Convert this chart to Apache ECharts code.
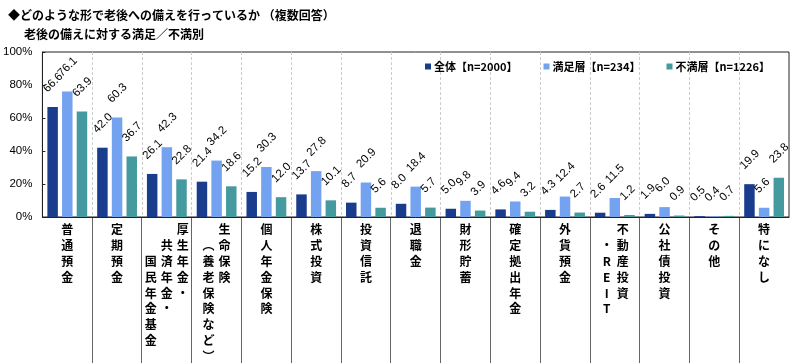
<!DOCTYPE html>
<html><head><meta charset="utf-8">
<script src="https://cdn.jsdelivr.net/npm/echarts@6/dist/echarts.min.js"></script>
<style>html,body{margin:0;padding:0;background:#fff}#c{width:800px;height:363px}</style>
</head><body><div id="c"></div>
<script>
// Category labels: each entry is a list of vertical text columns, right column first
const categories = [
  ['普通預金'],
  ['定期預金'],
  ['厚生年金・', '共済年金・', '国民年金基金'],
  ['生命保険', '︵養老保険など︶'],
  ['個人年金保険'],
  ['株式投資'],
  ['投資信託'],
  ['退職金'],
  ['財形貯蓄'],
  ['確定拠出年金'],
  ['外貨預金'],
  ['不動産投資', '・REIT'],
  ['公社債投資'],
  ['その他'],
  ['特になし']
];
const seriesNames = ['全体【n=2000】', '満足層【n=234】', '不満層【n=1226】'];
const allValues      = [66.6, 42.0, 26.1, 21.4, 15.2, 13.7, 8.7, 8.0, 5.0, 4.6, 4.3, 2.6, 1.9, 0.5, 19.9];
const satisfiedValues = [76.1, 60.3, 42.3, 34.2, 30.3, 27.8, 20.9, 18.4, 9.8, 9.4, 12.4, 11.5, 6.0, 0.4, 5.6];
const unsatisfiedValues = [63.9, 36.7, 22.8, 18.6, 12.0, 10.1, 5.6, 5.7, 3.9, 3.2, 2.7, 1.2, 0.9, 0.7, 23.8];
const yTicks = [0, 20, 40, 60, 80, 100];
const titleLines = ['◆どのような形で老後への備えを行っているか （複数回答）', '老後の備えに対する満足／不満別'];

const colors = ['#1a3c8c', '#72a2f0', '#449a9e'];
const catKeys = categories.map(c => c.join('|'));

function verticalLabel(key) {
  const cols = key.split('|');
  const n = cols.length;
  let rows = 0;
  cols.forEach((c, k) => { rows = Math.max(rows, k + Array.from(c).length); });
  const lines = [];
  for (let r = 0; r < rows; r++) {
    let line = '';
    for (let k = n - 1; k >= 0; k--) {
      const ch = Array.from(cols[k])[r - k];
      line += ch ? '{c|' + ch + '}' : '{c|　}';
    }
    lines.push(line);
  }
  return lines.join('\n');
}

const labelStyle = {
  show: true, position: 'top', distance: 0, rotate: 45,
  align: 'left', verticalAlign: 'middle', offset: [6.4, -17],
  fontFamily: 'Liberation Sans', fontSize: 11.5, color: '#000',
  formatter: p => p.value.toFixed(1)
};

const chart = echarts.init(document.getElementById('c'), null, {renderer: 'canvas'});
chart.setOption({
  animation: false,
  title: [
    {text: titleLines[0], left: 3, top: 4, textStyle: {fontFamily: 'Noto Sans CJK JP', fontWeight: 'bold', fontSize: 12, color: '#000'}},
    {text: titleLines[1], left: 19, top: 23, textStyle: {fontFamily: 'Noto Sans CJK JP', fontWeight: 'bold', fontSize: 12, color: '#000'}}
  ],
  legend: {
    data: seriesNames, right: 25, top: 56, icon: 'rect', itemWidth: 6, itemHeight: 6, itemGap: 26,
    textStyle: {fontFamily: 'Noto Sans CJK JP', fontWeight: 'bold', fontSize: 11, color: '#000', padding: [0, 0, 0, -2]}
  },
  grid: [
    {left: 42, right: 11, top: 52, bottom: 146, show: true, borderColor: '#222', borderWidth: 1},
    {left: 42, right: 11, top: 217, bottom: 0}
  ],
  xAxis: [
    {
      type: 'category', data: catKeys, gridIndex: 0,
      axisLine: {lineStyle: {color: '#222', width: 1}},
      axisTick: {show: false},
      splitLine: {show: true, interval: 0, showMinLine: false, showMaxLine: false, lineStyle: {color: '#cccccc', type: [3, 2]}},
      axisLabel: {
        interval: 0, margin: 5, verticalAlign: 'top',
        formatter: verticalLabel,
        rich: {c: {width: 16, align: 'center', lineHeight: 15.8, fontFamily: 'Noto Sans CJK JP', fontWeight: 'bold', fontSize: 12, color: '#000'}}
      }
    },
    {
      type: 'category', data: catKeys, gridIndex: 1,
      axisLine: {show: false}, axisTick: {show: false}, axisLabel: {show: false, interval: 0},
      splitLine: {show: true, interval: 0, showMinLine: false, showMaxLine: false, lineStyle: {color: '#666', width: 1}}
    }
  ],
  yAxis: [
    {
      type: 'value', min: 0, max: 100, interval: 20, gridIndex: 0,
      axisLine: {show: true, lineStyle: {color: '#222'}},
      axisTick: {show: true, inside: true, length: 3, lineStyle: {color: '#222'}},
      splitLine: {show: false},
      axisLabel: {margin: 10, fontFamily: 'Liberation Sans', fontSize: 11.5, color: '#000',
        formatter: v => yTicks.includes(v) ? v + '%' : ''}
    },
    {type: 'value', gridIndex: 1, show: false, min: 0, max: 1, splitLine: {show: false}}
  ],
  series: [
    {name: seriesNames[0], type: 'bar', data: allValues, barGap: '40%', barCategoryGap: '20%', itemStyle: {color: colors[0]}, label: labelStyle},
    {name: seriesNames[1], type: 'bar', data: satisfiedValues, barGap: '40%', barCategoryGap: '20%', itemStyle: {color: colors[1]}, label: labelStyle},
    {name: seriesNames[2], type: 'bar', data: unsatisfiedValues, barGap: '40%', barCategoryGap: '20%', itemStyle: {color: colors[2]}, label: labelStyle}
  ]
});
</script></body></html>
